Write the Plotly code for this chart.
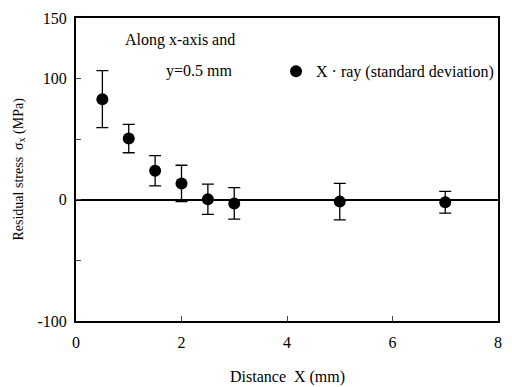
import plotly.graph_objects as go

distance_mm = [0.5, 1.0, 1.5, 2.0, 2.5, 3.0, 5.0, 7.0]
stress_mpa = [83, 50.5, 24, 13.5, 0.5, -3, -1.5, -2]
std_dev = [23.5, 11.7, 12.5, 15, 12.5, 13, 15, 9]

x_ticks = [0, 2, 4, 6, 8]
y_tickvals = [-100, -50, 0, 50, 100, 150]
y_ticktext = ["-100", "", "0", "", "100", "150"]

FONT = "Liberation Serif"

fig = go.Figure()
fig.add_trace(go.Scatter(
    x=distance_mm, y=stress_mpa, mode="markers",
    name="X · ray (standard deviation)",
    marker=dict(color="black", size=12, symbol="circle"),
    error_y=dict(type="data", array=std_dev, visible=True, color="black", thickness=1.3, width=6),
))

fig.update_layout(
    width=512, height=387,
    margin=dict(l=76, r=10, t=14, b=66),
    paper_bgcolor="white", plot_bgcolor="white",
    font=dict(family=FONT, size=16, color="black"),
    showlegend=True,
    legend=dict(x=0.474, y=0.824, xanchor="left", yanchor="middle",
                bgcolor="rgba(0,0,0,0)", font=dict(family=FONT, size=16),
                itemwidth=30, tracegroupgap=0),
    xaxis=dict(range=[0, 8], tickvals=x_ticks, ticks="inside", ticklen=5,
               showline=True, linecolor="black", linewidth=2, mirror=True,
               showgrid=False, zeroline=False, tickfont=dict(size=16), ticklabelstandoff=6),
    yaxis=dict(range=[-100, 150], tickvals=y_tickvals, ticktext=y_ticktext,
               ticks="inside", ticklen=5,
               showline=True, linecolor="black", linewidth=2, mirror=True,
               showgrid=False, zeroline=True, zerolinecolor="black", zerolinewidth=1.5,
               tickfont=dict(size=16), ticklabelstandoff=4),
    annotations=[
        dict(text="Along x-axis and", x=0.9, y=132, xref="x", yref="y",
             xanchor="left", yanchor="middle", showarrow=False, font=dict(size=16)),
        dict(text="y=0.5 mm", x=1.66, y=106.5, xref="x", yref="y",
             xanchor="left", yanchor="middle", showarrow=False, font=dict(size=16)),
        dict(text="Distance  X (mm)", x=0.5, y=-0.185, xref="paper", yref="paper",
             xanchor="center", yanchor="middle", showarrow=False, font=dict(size=16)),
        dict(text="Residual stress  σ<sub>x</sub> (MPa)", x=-0.135, y=0.5, xref="paper", yref="paper",
             xanchor="center", yanchor="middle", textangle=-90, showarrow=False, font=dict(size=14)),
    ],
)

fig.write_html("out.html")
